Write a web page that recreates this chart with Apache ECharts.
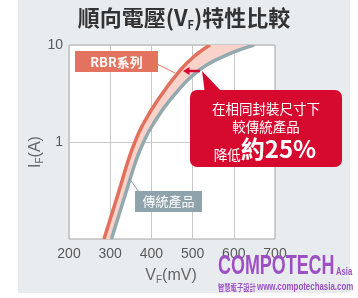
<!DOCTYPE html>
<html><head><meta charset="utf-8">
<script src="https://cdn.jsdelivr.net/npm/echarts@6/dist/echarts.min.js"></script>
<style>html,body{margin:0;padding:0;background:#fff;}#c{width:358px;height:298px;}</style>
</head><body><div id="c"></div>
<script>
// ---- data ----
const xTicks = [200, 300, 400, 500, 600, 700];
const yTicks = [0.1, 1, 10];
const rbrV  = [285, 320, 344, 360, 377, 415, 470, 508, 542];    // RBR系列 VF (mV)
const rbrI  = [0.1, 0.3, 0.65, 1.0, 1.45, 2.7, 5.5, 7.9, 10];   // IF (A)
const convV = [303, 338, 363, 381, 401, 445, 516, 583, 649];    // 傳統產品 VF (mV)
const convI = [0.1, 0.3, 0.65, 1.0, 1.45, 2.7, 5.5, 7.9, 10];   // IF (A)

const CJK = '"Noto Sans CJK TC", "Noto Sans", sans-serif';
const LAT = '"Liberation Sans", "Noto Sans", sans-serif';

function renderCurves(params, api) {
  const red = rbrV.map((v, i) => api.coord([v, rbrI[i]]));
  const gray = convV.map((v, i) => api.coord([v, convI[i]]));
  const poly = red.concat(gray.slice().reverse());
  return {
    type: 'group',
    children: [
      { type: 'polygon', shape: { points: poly }, style: { fill: '#f9d3c9' } },
      { type: 'polyline', shape: { points: gray, smooth: 0.45 }, style: { stroke: '#93a9b0', lineWidth: 3.5, fill: null } },
      { type: 'polyline', shape: { points: red, smooth: 0.45 }, style: { stroke: '#e2705c', lineWidth: 3.5, fill: null } }
    ]
  };
}

const chart = echarts.init(document.getElementById('c'), null, { renderer: 'canvas' });
chart.setOption({
  animation: false,
  backgroundColor: 'transparent',
  grid: { left: 69, right: 83, top: 45, bottom: 59, show: true, backgroundColor: '#ffffff', borderColor: '#a8a8a8', borderWidth: 1 },
  xAxis: {
    type: 'value', min: xTicks[0], max: xTicks[xTicks.length - 1], interval: 100,
    axisLine: { show: false }, axisTick: { show: false },
    splitLine: { show: true, lineStyle: { color: '#c8c8c8', width: 1 } },
    axisLabel: { show: true, margin: 8, color: '#5a5a5a', fontSize: 14, fontFamily: LAT,
      formatter: v => xTicks.indexOf(v) >= 0 ? String(v) : '' }
  },
  yAxis: {
    type: 'log', logBase: 10, min: yTicks[0], max: yTicks[yTicks.length - 1],
    axisLine: { show: false }, axisTick: { show: false }, minorTick: { show: false },
    splitLine: { show: true, lineStyle: { color: '#c8c8c8', width: 1 } },
    axisLabel: { show: true, margin: 6, color: '#5a5a5a', fontSize: 14, fontFamily: LAT,
      formatter: v => v >= 0.5 ? String(Math.round(v)) : '' }
  },
  series: [{
    type: 'custom', clip: true, renderItem: renderCurves,
    data: [[300, 1]], encode: { x: 0, y: 1 }, silent: true
  }],
  graphic: [
    { type: 'rect', z: -10, silent: true, shape: { x: 18, y: 0, width: 332, height: 293 }, style: { fill: '#e9ecef' } },
    // title
    { type: 'text', z: 10, x: 184, y: 18, style: {
      text: '{t|順向電壓(V}{s|F}{t|)特性比較}', align: 'center', verticalAlign: 'middle',
      rich: { t: { fontSize: 22, fontWeight: 'bold', fontFamily: CJK, fill: '#333333', lineHeight: 24 },
              s: { fontSize: 11, fontWeight: 'bold', fontFamily: CJK, fill: '#333333', verticalAlign: 'bottom', lineHeight: 14 } } } },
    // y-axis name
    { type: 'text', z: 10, x: 36, y: 152, rotation: Math.PI / 2, style: {
      text: '{a|I}{s|F}{a|(A)}', align: 'center', verticalAlign: 'middle',
      rich: { a: { fontSize: 16, fontFamily: LAT, fill: '#666666', lineHeight: 18 },
              s: { fontSize: 10, fontFamily: LAT, fill: '#666666', verticalAlign: 'bottom', lineHeight: 12 } } } },
    // x-axis name
    { type: 'text', z: 10, x: 171, y: 276, style: {
      text: '{a|V}{s|F}{a|(mV)}', align: 'center', verticalAlign: 'middle',
      rich: { a: { fontSize: 16, fontFamily: LAT, fill: '#666666', lineHeight: 18 },
              s: { fontSize: 10, fontFamily: LAT, fill: '#666666', verticalAlign: 'bottom', lineHeight: 12 } } } },
    // RBR label
    { type: 'line', z: 10, shape: { x1: 157, y1: 64, x2: 175, y2: 73 }, style: { stroke: '#e3735f', lineWidth: 1 } },
    { type: 'rect', z: 10, shape: { x: 75, y: 51, width: 83, height: 21 }, style: { fill: '#e3735f' } },
    { type: 'text', z: 11, x: 116.5, y: 62, style: { text: 'RBR系列', align: 'center', verticalAlign: 'middle',
      fontSize: 13, fontWeight: 'bold', fontFamily: CJK, fill: '#ffffff' } },
    // conventional label
    { type: 'line', z: 10, shape: { x1: 129, y1: 178, x2: 139, y2: 192 }, style: { stroke: '#8ea3ab', lineWidth: 1 } },
    { type: 'rect', z: 10, shape: { x: 135, y: 191, width: 67, height: 21 }, style: { fill: '#8ea3ab' } },
    { type: 'text', z: 11, x: 168.5, y: 201.5, style: { text: '傳統產品', align: 'center', verticalAlign: 'middle',
      fontSize: 13, fontFamily: CJK, fill: '#ffffff' } },
    // callout
    { type: 'polygon', z: 10, shape: { points: [[202, 71], [205, 94], [224, 94]] }, style: { fill: '#d6092f' } },
    { type: 'rect', z: 10, shape: { x: 190, y: 90, width: 152, height: 77, r: 7 }, style: { fill: '#d6092f' } },
    { type: 'text', z: 11, x: 266, y: 109, style: { text: '在相同封裝尺寸下', align: 'center', verticalAlign: 'middle',
      fontSize: 13.5, fontFamily: CJK, fill: '#ffffff' } },
    { type: 'text', z: 11, x: 266, y: 127, style: { text: '較傳統產品', align: 'center', verticalAlign: 'middle',
      fontSize: 13.5, fontFamily: CJK, fill: '#ffffff' } },
    { type: 'text', z: 11, x: 265, y: 149, style: { text: '{s|降低}{b|約25%}', align: 'center', verticalAlign: 'middle',
      rich: { s: { fontSize: 13.5, fontFamily: CJK, fill: '#ffffff', verticalAlign: 'bottom', lineHeight: 18 },
              b: { fontSize: 24, fontWeight: 'bold', fontFamily: CJK, fill: '#ffffff', lineHeight: 26 } } } },
    // arrow
    { type: 'line', z: 12, shape: { x1: 189, y1: 71, x2: 200, y2: 71 }, style: { stroke: '#d6092f', lineWidth: 2.5 } },
    { type: 'polygon', z: 12, shape: { points: [[183, 71], [189.5, 67], [189.5, 75]] }, style: { fill: '#d6092f' } },
    // watermark
    { type: 'text', z: 20, x: 218, y: 266.5, scaleX: 0.64, style: { text: 'COMPOTECH', align: 'left', verticalAlign: 'middle',
      fontSize: 28, fontWeight: 'bold', fontFamily: LAT, fill: '#9c50c4' } },
    { type: 'text', z: 20, x: 336, y: 272, scaleX: 0.7, style: { text: 'Asia', align: 'left', verticalAlign: 'middle',
      fontSize: 11, fontWeight: 'bold', fontFamily: LAT, fill: '#9c50c4' } },
    { type: 'text', z: 20, x: 218, y: 287.5, scaleX: 0.7, style: { text: '智慧電子設計', align: 'left', verticalAlign: 'middle',
      fontSize: 9, fontWeight: 'bold', fontFamily: CJK, fill: '#9c50c4' } },
    { type: 'text', z: 20, x: 257, y: 287.5, scaleX: 0.79, style: { text: 'www.compotechasia.com', align: 'left', verticalAlign: 'middle',
      fontSize: 10, fontWeight: 'bold', fontFamily: LAT, fill: '#9c50c4' } }
  ]
});
</script>
</body></html>
